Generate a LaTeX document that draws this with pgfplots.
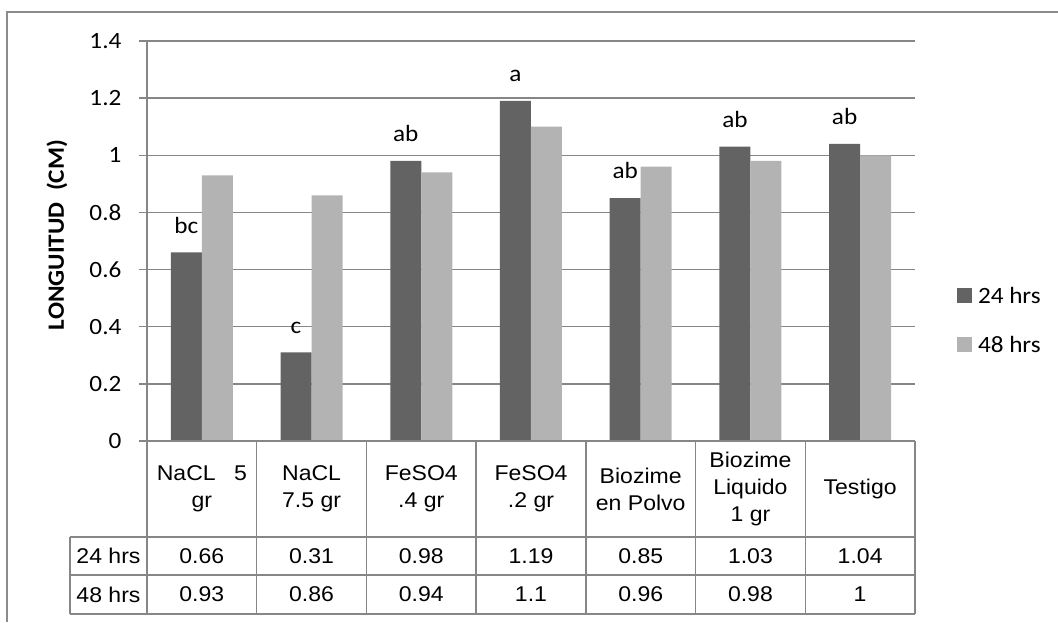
\documentclass[border=0pt]{standalone}
\usepackage{fontspec}
\setmainfont{Carlito}[FakeStretch=1.08]
\newfontfamily\arialf{Liberation Sans}[FakeStretch=1.08]
\usepackage{pgfplots}
\pgfplotsset{compat=1.18}
\definecolor{darkbar}{RGB}{99,99,99}
\definecolor{lightbar}{RGB}{179,179,179}
\definecolor{gridc}{RGB}{134,134,134}
\definecolor{framec}{RGB}{140,140,140}
\newcommand{\cfont}{\fontsize{17.5}{21}\selectfont}
\newcommand{\tfont}{\arialf\fontsize{16}{20.25}\selectfont}
\begin{document}
\begin{tikzpicture}[x=0.75pt,y=0.75pt]
\path[use as bounding box] (0,0) rectangle (1058,622);
\draw[framec, line width=1.1pt] (7,0) -- (7,610) -- (1058,610);
\begin{axis}[
  at={(110.25pt,135.75pt)}, anchor=south west, scale only axis,
  width=576pt, height=300pt,
  xmin=-0.5, xmax=6.5, ymin=0, ymax=1.4,
  axis x line=none, axis y line=left,
  axis line style={gridc, line width=1pt, -},
  xtick=\empty,
  ytick={0,0.2,0.4,0.6,0.8,1,1.2,1.4},
  yticklabels={0,0.2,0.4,0.6,0.8,1,1.2,1.4},
  ymajorgrids, grid style={gridc, line width=1pt},
  major tick length=6pt, tick align=outside,
  tick style={gridc, line width=1pt},
  /pgf/number format/assume math mode=true,
  yticklabel style={font=\cfont, text=black, inner sep=0pt, xshift=-13pt},
  ybar=0pt, bar width=23.25pt,
  clip=false,
  legend style={at={(1.0547,0.3825)}, anchor=north west, draw=none, fill=none,
    inner sep=0pt, outer sep=0pt, row sep=25pt, column sep=4.5pt,
    nodes={inner sep=0pt, text height=11pt, text depth=0pt, font=\cfont, yshift=5pt}},
  legend cell align=left,
  legend image code/.code={\fill[#1] (0pt,0pt) rectangle (11.25pt,11.25pt);},
]
\addplot[fill=darkbar, draw=none,
  nodes near coords, point meta=explicit symbolic,
  every node near coord/.append style={inner sep=0pt, yshift=14.25pt, font=\cfont, text=black}]
  coordinates {(0,0.66) [bc] (1,0.31) [c] (2,0.98) [ab] (3,1.19) [a] (4,0.85) [ab] (5,1.03) [ab] (6,1.04) [ab]};
\addplot[fill=lightbar, draw=none]
  coordinates {(0,0.93) (1,0.86) (2,0.94) (3,1.1) (4,0.96) (5,0.98) (6,1)};
\legend{24 hrs, 48 hrs}
\end{axis}
% data table
\begin{scope}[gridc, line width=1pt]
\foreach \k in {0,...,7} \draw (147+\k*109.714,181) -- (147+\k*109.714,8);
\draw (147,181) -- (915,181);
\draw (70,85) -- (915,85);
\draw (70,47) -- (915,47);
\draw (70,8) -- (915,8);
\draw (70,85) -- (70,8);
\end{scope}
\begin{scope}[every node/.style={font=\tfont, align=center, inner sep=0pt, text=black}]
\node at (147+0.5*109.714,133) {\makebox[67.5pt]{NaCL\hfill 5}\\gr};
\node at (147+1.5*109.714,133) {NaCL\\7.5 gr};
\node at (147+2.5*109.714,133) {FeSO4\\.4 gr};
\node at (147+3.5*109.714,133) {FeSO4\\.2 gr};
\node at (147+4.5*109.714,133) {Biozime\\en Polvo};
\node at (147+5.5*109.714,133) {Biozime\\Liquido\\1 gr};
\node at (147+6.5*109.714,133) {Testigo};
\node at (108.5,66) {24 hrs};
\node at (108.5,27.5) {48 hrs};
\foreach \v [count=\i from 0] in {0.66,0.31,0.98,1.19,0.85,1.03,1.04}
  \node at (147+\i*109.714+54.857,66) {\v};
\foreach \v [count=\i from 0] in {0.93,0.86,0.94,1.1,0.96,0.98,1}
  \node at (147+\i*109.714+54.857,27.5) {\v};
\end{scope}
\node[rotate=90, font=\bfseries\cfont, inner sep=0pt] at (57,387) {LONGUITUD\ \ (CM)};
\end{tikzpicture}
\end{document}
